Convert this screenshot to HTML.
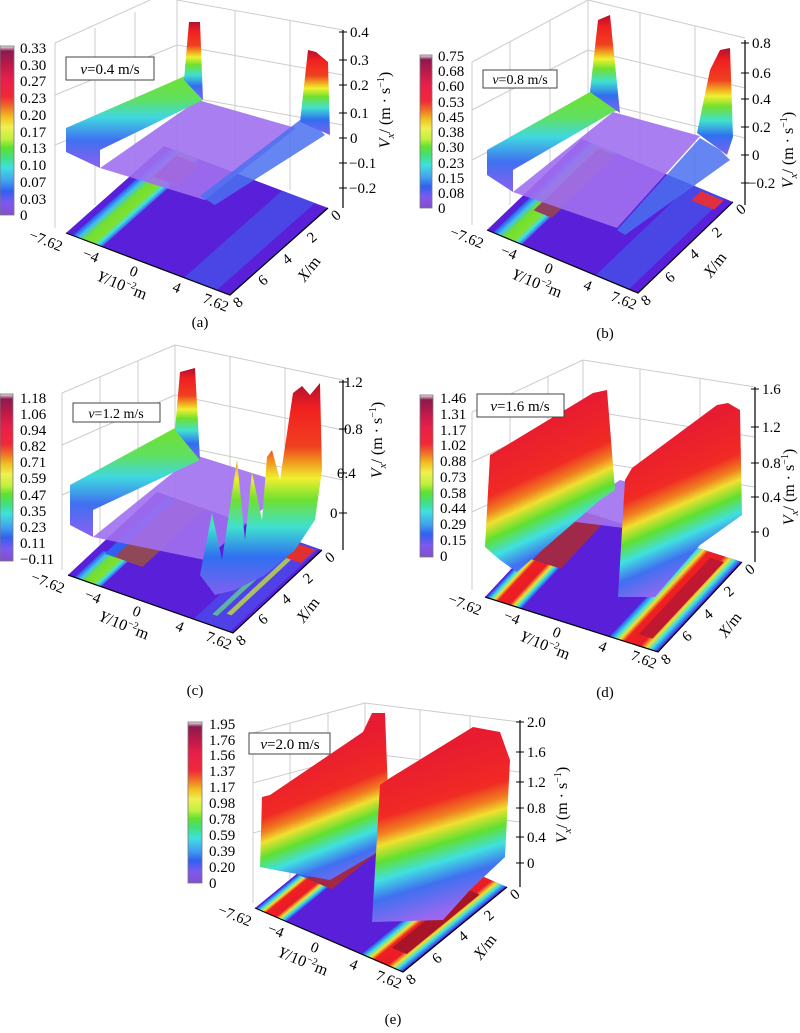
<!DOCTYPE html>
<html><head><meta charset="utf-8"><style>
html,body{margin:0;padding:0;background:#fff;}
svg, svg text{font-family:"Liberation Serif","DejaVu Serif",serif;}
</style></head><body>
<svg width="800" height="1028" viewBox="0 0 800 1028" xmlns="http://www.w3.org/2000/svg" font-family="Liberation Serif, serif">
<defs>
<linearGradient id="cb" x1="0" y1="0" x2="0" y2="1">
<stop offset="0" stop-color="#eee"/><stop offset=".03" stop-color="#8b1a4f"/><stop offset=".12" stop-color="#c21a4a"/><stop offset=".2" stop-color="#e8204a"/><stop offset=".3" stop-color="#f02838"/><stop offset=".36" stop-color="#f07028"/><stop offset=".42" stop-color="#f0c020"/><stop offset=".48" stop-color="#f0f050"/><stop offset=".55" stop-color="#c0f040"/><stop offset=".6" stop-color="#60e030"/><stop offset=".66" stop-color="#40e080"/><stop offset=".72" stop-color="#40e0e0"/><stop offset=".8" stop-color="#40a0f0"/><stop offset=".86" stop-color="#3060f0"/><stop offset=".93" stop-color="#8058f0"/><stop offset="1" stop-color="#8050c8"/>
</linearGradient>
<linearGradient id="pk" x1="0" y1="0" x2="0" y2="1">
<stop offset="0" stop-color="#b01030"/><stop offset=".12" stop-color="#f02020"/><stop offset=".3" stop-color="#f04020"/><stop offset=".38" stop-color="#f0a020"/><stop offset=".45" stop-color="#f0f030"/><stop offset=".55" stop-color="#70e030"/><stop offset=".68" stop-color="#40e0d0"/><stop offset=".82" stop-color="#3070f0"/><stop offset="1" stop-color="#8060f0"/>
</linearGradient>
<linearGradient id="bigs">
<stop offset="0" stop-color="#e81c30"/><stop offset=".3" stop-color="#f02a24"/><stop offset=".4" stop-color="#f08020"/><stop offset=".47" stop-color="#f0e030"/><stop offset=".57" stop-color="#60e030"/><stop offset=".68" stop-color="#40e0e0"/><stop offset=".8" stop-color="#4070f0"/><stop offset="1" stop-color="#9a68f0"/>
</linearGradient>
<linearGradient id="dL" href="#bigs" xlink:href="#bigs" xmlns:xlink="http://www.w3.org/1999/xlink" gradientUnits="userSpaceOnUse" x1="548" y1="420" x2="610" y2="555"/>
<linearGradient id="dR" href="#bigs" xlink:href="#bigs" xmlns:xlink="http://www.w3.org/1999/xlink" gradientUnits="userSpaceOnUse" x1="678" y1="432" x2="735" y2="565"/>
<linearGradient id="eL" href="#bigs" xlink:href="#bigs" xmlns:xlink="http://www.w3.org/1999/xlink" gradientUnits="userSpaceOnUse" x1="318" y1="752" x2="368" y2="880"/>
<linearGradient id="eR" href="#bigs" xlink:href="#bigs" xmlns:xlink="http://www.w3.org/1999/xlink" gradientUnits="userSpaceOnUse" x1="443" y1="750" x2="488" y2="900"/>
<linearGradient id="band" x1="0" y1="0" x2="0" y2="1">
<stop offset="0" stop-color="#70e030"/><stop offset=".25" stop-color="#60e060"/><stop offset=".45" stop-color="#40d8e0"/><stop offset=".7" stop-color="#4070f0"/><stop offset="1" stop-color="#8c60f0"/>
</linearGradient>
<linearGradient id="fl1" x1="0" y1="0" x2="1" y2="0">
<stop offset="0" stop-color="#3050f0"/><stop offset=".2" stop-color="#40c0f0"/><stop offset=".4" stop-color="#70e030"/><stop offset=".7" stop-color="#80e030"/><stop offset=".85" stop-color="#40e0e0"/><stop offset="1" stop-color="#4060f0"/>
</linearGradient>
<linearGradient id="fl2" x1="0" y1="0" x2="1" y2="0">
<stop offset="0" stop-color="#3050f0"/><stop offset=".12" stop-color="#40e0e0"/><stop offset=".22" stop-color="#f0e030"/><stop offset=".32" stop-color="#f02020"/><stop offset=".65" stop-color="#e81c28"/><stop offset=".78" stop-color="#f0e030"/><stop offset=".88" stop-color="#40e0e0"/><stop offset="1" stop-color="#3050f0"/>
</linearGradient>
</defs>

<!-- ================= PANEL A ================= -->
<g stroke="#ccc" stroke-width="1" fill="none">
<line x1="55" y1="43" x2="55" y2="228"/><line x1="55" y1="43" x2="150" y2="0"/><line x1="177" y1="0" x2="177" y2="150"/><line x1="177" y1="0" x2="343" y2="30"/>
<line x1="55" y1="95" x2="177" y2="45"/><line x1="55" y1="145" x2="177" y2="95"/><line x1="95" y1="28" x2="95" y2="205"/><line x1="135" y1="12" x2="135" y2="180"/>
<line x1="177" y1="45" x2="343" y2="75"/><line x1="177" y1="95" x2="343" y2="125"/><line x1="235" y1="10" x2="235" y2="170"/><line x1="290" y1="20" x2="290" y2="190"/>
</g>
<g transform="matrix(164,62,98,-87,66,233)">
<rect x="0" y="0" width="1" height="1" fill="#5a1fd8"/>
<rect x=".04" y="0" width=".18" height="1" fill="url(#fl1)"/>
<rect x=".1" y=".72" width=".14" height=".24" fill="#a03050"/>
<rect x=".72" y="0" width=".2" height="1" fill="#4060f0" opacity=".6"/>
</g>
<polygon points="100,168 198,100 296,128 205,200" fill="#a070f0" opacity=".9"/>
<polygon points="66,152 66,128 185,76 203,100 100,150 100,168" fill="url(#band)"/>
<polygon points="184,80 189,22 200,22 203,100" fill="url(#pk)"/>
<polygon points="200,196 300,120 318,128 325,135 215,205" fill="#4a70f0" opacity=".85"/>
<polygon points="300,122 308,50 316,52 328,62 330,135" fill="url(#pk)"/>
<g stroke="#000" stroke-width="1.2" fill="none"><polyline points="66,233 230,295 328,208"/><line x1="343" y1="30" x2="343" y2="208"/></g>
<g stroke="#000"><line x1="339" y1="32" x2="347" y2="32"/><line x1="339" y1="60" x2="347" y2="60"/><line x1="339" y1="85" x2="347" y2="85"/><line x1="339" y1="113" x2="347" y2="113"/><line x1="339" y1="138" x2="347" y2="138"/><line x1="339" y1="163" x2="347" y2="163"/><line x1="339" y1="188" x2="347" y2="188"/></g>
<g font-size="15"><text x="350" y="37">0.4</text><text x="350" y="65">0.3</text><text x="350" y="90">0.2</text><text x="350" y="118">0.1</text><text x="350" y="143">0</text><text x="349" y="168">−0.1</text><text x="349" y="193">−0.2</text></g>
<rect x="0" y="46" width="14" height="169" fill="url(#cb)" stroke="#777" stroke-width=".8"/>
<g font-size="15"><text x="20" y="53">0.33</text><text x="20" y="70">0.30</text><text x="20" y="86">0.27</text><text x="20" y="103">0.23</text><text x="20" y="120">0.20</text><text x="20" y="137">0.17</text><text x="20" y="153">0.13</text><text x="20" y="170">0.10</text><text x="20" y="187">0.07</text><text x="20" y="204">0.03</text><text x="20" y="220">0</text></g>
<rect x="66" y="57" width="88" height="23" fill="#fff" stroke="#444"/>
<text x="110" y="74" font-size="15" text-anchor="middle"><tspan font-style="italic">v</tspan>=0.4 m/s</text>

<!-- ================= PANEL B ================= -->
<g stroke="#ccc" stroke-width="1" fill="none">
<line x1="472" y1="62" x2="472" y2="225"/><line x1="472" y1="62" x2="588" y2="0"/><line x1="588" y1="0" x2="588" y2="150"/><line x1="588" y1="0" x2="745" y2="38"/>
<line x1="472" y1="110" x2="588" y2="50"/><line x1="472" y1="160" x2="588" y2="100"/><line x1="510" y1="42" x2="510" y2="205"/><line x1="550" y1="20" x2="550" y2="180"/>
<line x1="588" y1="50" x2="745" y2="88"/><line x1="588" y1="100" x2="745" y2="138"/><line x1="640" y1="12" x2="640" y2="170"/><line x1="695" y1="26" x2="695" y2="190"/>
</g>
<g transform="matrix(151,63,95,-91,487,230)">
<rect x="0" y="0" width="1" height="1" fill="#5a1fd8"/>
<rect x=".04" y="0" width=".19" height="1" fill="url(#fl1)"/>
<rect x=".12" y=".3" width=".12" height=".68" fill="#904060"/>
<rect x=".72" y="0" width=".22" height="1" fill="#4060f0" opacity=".6"/>
<rect x=".8" y=".88" width=".15" height=".1" fill="#e03040"/>
</g>
<polygon points="513,192 613,112 700,136 617,228" fill="#a070f0" opacity=".9"/>
<polygon points="487,175 487,150 590,92 620,110 613,112 513,170 513,192" fill="url(#band)"/>
<polygon points="590,92 598,20 610,15 620,113" fill="url(#pk)"/>
<polygon points="617,230 700,138 720,150 730,160 625,235" fill="#4a70f0" opacity=".85"/>
<polygon points="697,133 710,70 720,50 730,48 733,137 727,155" fill="url(#pk)"/>
<g stroke="#000" stroke-width="1.2" fill="none"><polyline points="487,230 638,293 733,202"/><line x1="745" y1="40" x2="745" y2="205"/></g>
<g stroke="#000"><line x1="741" y1="43" x2="749" y2="43"/><line x1="741" y1="73" x2="749" y2="73"/><line x1="741" y1="99" x2="749" y2="99"/><line x1="741" y1="127" x2="749" y2="127"/><line x1="741" y1="155" x2="749" y2="155"/><line x1="741" y1="183" x2="749" y2="183"/></g>
<g font-size="15"><text x="752" y="48">0.8</text><text x="752" y="78">0.6</text><text x="752" y="104">0.4</text><text x="752" y="132">0.2</text><text x="752" y="160">0</text><text x="748" y="188">−0.2</text></g>
<rect x="420" y="55" width="12" height="153" fill="url(#cb)" stroke="#777" stroke-width=".8"/>
<g font-size="15"><text x="438" y="61">0.75</text><text x="438" y="76">0.68</text><text x="438" y="91">0.60</text><text x="438" y="107">0.53</text><text x="438" y="122">0.45</text><text x="438" y="137">0.38</text><text x="438" y="152">0.30</text><text x="438" y="168">0.23</text><text x="438" y="183">0.15</text><text x="438" y="198">0.08</text><text x="438" y="213">0</text></g>
<rect x="483" y="70" width="74" height="18" fill="#fff" stroke="#444"/>
<text x="520" y="84" font-size="14" text-anchor="middle"><tspan font-style="italic">v</tspan>=0.8 m/s</text>

<!-- ================= PANEL C ================= -->
<g stroke="#ccc" stroke-width="1" fill="none">
<line x1="62" y1="393" x2="62" y2="570"/><line x1="62" y1="393" x2="175" y2="345"/><line x1="175" y1="345" x2="175" y2="500"/><line x1="175" y1="345" x2="343" y2="380"/>
<line x1="62" y1="445" x2="175" y2="395"/><line x1="62" y1="495" x2="175" y2="445"/><line x1="100" y1="377" x2="100" y2="545"/><line x1="138" y1="361" x2="138" y2="520"/>
<line x1="175" y1="395" x2="343" y2="430"/><line x1="175" y1="445" x2="343" y2="480"/><line x1="230" y1="357" x2="230" y2="520"/><line x1="285" y1="368" x2="285" y2="535"/>
</g>
<g transform="matrix(165,58,89,-83,68,575)">
<rect x="0" y="0" width="1" height="1" fill="#5a1fd8"/>
<rect x=".04" y="0" width=".16" height=".32" fill="url(#fl1)"/>
<rect x=".06" y=".3" width=".06" height=".7" fill="#3060f0"/>
<rect x=".12" y=".3" width=".17" height=".7" fill="#904858"/>
<rect x=".76" y="0" width=".22" height="1" fill="#5040e8"/>
<rect x=".82" y=".1" width=".03" height=".8" fill="#60d090" opacity=".8"/>
<rect x=".88" y=".15" width=".03" height=".8" fill="#c0e040" opacity=".8"/>
<rect x=".84" y=".82" width=".13" height=".16" fill="#e03030"/>
</g>
<polygon points="93,537 195,455 290,485 205,560" fill="#a070f0" opacity=".9"/>
<polygon points="70,525 70,485 175,428 200,460 93,510 93,537" fill="url(#band)"/>
<polygon points="175,430 180,372 195,368 200,460" fill="url(#pk)"/>
<polygon points="200,575 212,513 222,560 237,460 245,540 252,472 262,520 267,457 272,450 280,480 293,393 302,386 310,395 320,383 322,470 315,520 295,550 265,575 235,590 215,595" fill="url(#pk)"/>
<g stroke="#000" stroke-width="1.2" fill="none"><polyline points="68,575 233,633 322,550"/><line x1="343" y1="380" x2="343" y2="550"/></g>
<g stroke="#000"><line x1="339" y1="382" x2="347" y2="382"/><line x1="339" y1="429" x2="347" y2="429"/><line x1="339" y1="473" x2="347" y2="473"/><line x1="339" y1="513" x2="347" y2="513"/></g>
<g font-size="15"><text x="344" y="387">1.2</text><text x="344" y="434">0.8</text><text x="337" y="478">0.4</text><text x="330" y="518">0</text></g>
<rect x="0" y="394" width="13" height="167" fill="url(#cb)" stroke="#777" stroke-width=".8"/>
<g font-size="15"><text x="20" y="403">1.18</text><text x="20" y="419">1.06</text><text x="20" y="435">0.94</text><text x="20" y="451">0.82</text><text x="20" y="467">0.71</text><text x="20" y="483">0.59</text><text x="20" y="500">0.47</text><text x="20" y="516">0.35</text><text x="20" y="532">0.23</text><text x="20" y="548">0.11</text><text x="20" y="564">−0.11</text></g>
<rect x="73" y="403" width="87" height="19" fill="#fff" stroke="#444"/>
<text x="116" y="418" font-size="14" text-anchor="middle"><tspan font-style="italic">v</tspan>=1.2 m/s</text>

<!-- ================= PANEL D ================= -->
<g stroke="#ccc" stroke-width="1" fill="none">
<line x1="472" y1="412" x2="472" y2="590"/><line x1="472" y1="412" x2="583" y2="360"/><line x1="583" y1="360" x2="583" y2="515"/><line x1="583" y1="360" x2="755" y2="387"/>
<line x1="472" y1="462" x2="583" y2="410"/><line x1="472" y1="512" x2="583" y2="460"/><line x1="510" y1="395" x2="510" y2="570"/><line x1="548" y1="377" x2="548" y2="540"/>
<line x1="583" y1="410" x2="755" y2="437"/><line x1="583" y1="460" x2="755" y2="487"/><line x1="640" y1="369" x2="640" y2="530"/><line x1="700" y1="378" x2="700" y2="545"/>
</g>
<g transform="matrix(173,55,84,-90,485,597)">
<rect x="0" y="0" width="1" height="1" fill="#5a1fd8"/>
<rect x=".01" y="0" width=".2" height=".45" fill="url(#fl2)"/>
<rect x=".01" y=".45" width=".05" height=".55" fill="#3060f0"/>
<rect x=".06" y=".45" width=".16" height=".55" fill="#a02848"/>
<rect x=".72" y="0" width=".27" height="1" fill="url(#fl2)"/>
<rect x=".84" y=".1" width=".08" height=".85" fill="#c01830"/>
</g>
<polygon points="560,520 620,480 690,500 640,530" fill="#a070f0" opacity=".9"/>
<polygon points="485,547 490,455 502,448 593,393 607,390 615,490 600,500 517,572 500,560" fill="url(#dL)"/>
<polygon points="618,597 625,480 632,468 717,405 728,403 740,410 742,515 700,545 655,597" fill="url(#dR)"/>
<g stroke="#000" stroke-width="1.2" fill="none"><polyline points="485,597 658,652 742,562"/><line x1="755" y1="387" x2="755" y2="562"/></g>
<g stroke="#000"><line x1="751" y1="389" x2="759" y2="389"/><line x1="751" y1="427" x2="759" y2="427"/><line x1="751" y1="463" x2="759" y2="463"/><line x1="751" y1="497" x2="759" y2="497"/><line x1="751" y1="532" x2="759" y2="532"/></g>
<g font-size="15"><text x="762" y="394">1.6</text><text x="762" y="432">1.2</text><text x="762" y="468">0.8</text><text x="762" y="502">0.4</text><text x="762" y="537">0</text></g>
<rect x="420" y="395" width="13" height="162" fill="url(#cb)" stroke="#777" stroke-width=".8"/>
<g font-size="15"><text x="440" y="403">1.46</text><text x="440" y="419">1.31</text><text x="440" y="435">1.17</text><text x="440" y="450">1.02</text><text x="440" y="466">0.88</text><text x="440" y="482">0.73</text><text x="440" y="498">0.58</text><text x="440" y="513">0.44</text><text x="440" y="529">0.29</text><text x="440" y="545">0.15</text><text x="440" y="561">0</text></g>
<rect x="477" y="394" width="87" height="23" fill="#fff" stroke="#444"/>
<text x="520" y="411" font-size="15" text-anchor="middle"><tspan font-style="italic">v</tspan>=1.6 m/s</text>

<!-- ================= PANEL E ================= -->
<g stroke="#ccc" stroke-width="1" fill="none">
<line x1="253" y1="733" x2="253" y2="903"/><line x1="253" y1="733" x2="365" y2="703"/><line x1="365" y1="703" x2="365" y2="820"/><line x1="365" y1="703" x2="520" y2="722"/>
<line x1="253" y1="783" x2="365" y2="753"/><line x1="253" y1="833" x2="365" y2="803"/><line x1="290" y1="723" x2="290" y2="880"/><line x1="328" y1="713" x2="328" y2="850"/>
<line x1="365" y1="753" x2="520" y2="772"/><line x1="365" y1="803" x2="520" y2="822"/><line x1="420" y1="710" x2="420" y2="860"/><line x1="470" y1="716" x2="470" y2="870"/>
</g>
<g transform="matrix(148,64,104,-85,255,908)">
<rect x="0" y="0" width="1" height="1" fill="#5a1fd8"/>
<rect x=".01" y="0" width=".2" height=".4" fill="url(#fl2)"/>
<rect x=".01" y=".4" width=".06" height=".6" fill="#3060f0"/>
<rect x=".07" y=".4" width=".17" height=".6" fill="#a02848"/>
<rect x=".72" y="0" width=".27" height="1" fill="url(#fl2)"/>
<rect x=".82" y=".15" width=".1" height=".7" fill="#a81428"/>
</g>
<polygon points="260,867 262,797 270,795 363,732 372,713 385,713 390,845 330,880 275,870" fill="url(#eL)"/>
<polygon points="372,922 380,785 390,778 473,727 500,732 510,760 505,857 470,890 443,920" fill="url(#eR)"/>
<g stroke="#000" stroke-width="1.2" fill="none"><polyline points="255,908 403,972 507,887"/><line x1="520" y1="720" x2="520" y2="887"/></g>
<g stroke="#000"><line x1="516" y1="722" x2="524" y2="722"/><line x1="516" y1="752" x2="524" y2="752"/><line x1="516" y1="782" x2="524" y2="782"/><line x1="516" y1="808" x2="524" y2="808"/><line x1="516" y1="837" x2="524" y2="837"/><line x1="516" y1="863" x2="524" y2="863"/></g>
<g font-size="15"><text x="527" y="727">2.0</text><text x="527" y="757">1.6</text><text x="527" y="787">1.2</text><text x="527" y="813">0.8</text><text x="527" y="842">0.4</text><text x="527" y="868">0</text></g>
<rect x="188" y="722" width="14" height="161" fill="url(#cb)" stroke="#777" stroke-width=".8"/>
<g font-size="15"><text x="209" y="729">1.95</text><text x="209" y="745">1.76</text><text x="209" y="760">1.56</text><text x="209" y="776">1.37</text><text x="209" y="792">1.17</text><text x="209" y="808">0.98</text><text x="209" y="824">0.78</text><text x="209" y="840">0.59</text><text x="209" y="856">0.39</text><text x="209" y="872">0.20</text><text x="209" y="888">0</text></g>
<rect x="249" y="733" width="81" height="21" fill="#fff" stroke="#444"/>
<text x="290" y="749" font-size="15" text-anchor="middle"><tspan font-style="italic">v</tspan>=2.0 m/s</text>

<!-- ================= AXIS TICK LABELS ================= -->
<g font-size="15" text-anchor="middle">
<text transform="translate(44,245) rotate(22)">−7.62</text><text transform="translate(89,260) rotate(22)">−4</text><text transform="translate(132,276) rotate(22)">0</text><text transform="translate(175,292) rotate(22)">4</text><text transform="translate(214,307) rotate(22)">7.62</text>
<text transform="translate(241,306) rotate(-40)">8</text><text transform="translate(266,284) rotate(-40)">6</text><text transform="translate(290,263) rotate(-40)">4</text><text transform="translate(315,241) rotate(-40)">2</text><text transform="translate(339,219) rotate(-40)">0</text>
<text transform="translate(465,242) rotate(22)">−7.62</text><text transform="translate(507,257) rotate(22)">−4</text><text transform="translate(547,273) rotate(22)">0</text><text transform="translate(586,290) rotate(22)">4</text><text transform="translate(622,305) rotate(22)">7.62</text>
<text transform="translate(649,304) rotate(-40)">8</text><text transform="translate(673,281) rotate(-40)">6</text><text transform="translate(697,258) rotate(-40)">4</text><text transform="translate(720,236) rotate(-40)">2</text><text transform="translate(744,213) rotate(-40)">0</text>
<text transform="translate(46,587) rotate(22)">−7.62</text><text transform="translate(91,601) rotate(22)">−4</text><text transform="translate(135,616) rotate(22)">0</text><text transform="translate(178,631) rotate(22)">4</text><text transform="translate(217,645) rotate(22)">7.62</text>
<text transform="translate(244,644) rotate(-40)">8</text><text transform="translate(266,623) rotate(-40)">6</text><text transform="translate(289,603) rotate(-40)">4</text><text transform="translate(311,582) rotate(-40)">2</text><text transform="translate(333,561) rotate(-40)">0</text>
<text transform="translate(463,609) rotate(22)">−7.62</text><text transform="translate(510,622) rotate(22)">−4</text><text transform="translate(555,637) rotate(22)">0</text><text transform="translate(601,651) rotate(22)">4</text><text transform="translate(642,664) rotate(22)">7.62</text>
<text transform="translate(669,663) rotate(-40)">8</text><text transform="translate(690,640) rotate(-40)">6</text><text transform="translate(711,618) rotate(-40)">4</text><text transform="translate(732,595) rotate(-40)">2</text><text transform="translate(753,573) rotate(-40)">0</text>
<text transform="translate(233,920) rotate(22)">−7.62</text><text transform="translate(274,935) rotate(22)">−4</text><text transform="translate(313,952) rotate(22)">0</text><text transform="translate(352,969) rotate(22)">4</text><text transform="translate(387,984) rotate(22)">7.62</text>
<text transform="translate(414,983) rotate(-40)">8</text><text transform="translate(440,962) rotate(-40)">6</text><text transform="translate(466,940) rotate(-40)">4</text><text transform="translate(492,919) rotate(-40)">2</text><text transform="translate(518,898) rotate(-40)">0</text>
</g>

<g font-size="16" text-anchor="middle">
<text transform="translate(120,290) rotate(22)"><tspan font-style="italic">Y</tspan>/10<tspan font-size="10" dy="-6">−2</tspan><tspan dy="6">m</tspan></text>
<text transform="translate(535,288) rotate(22)"><tspan font-style="italic">Y</tspan>/10<tspan font-size="10" dy="-6">−2</tspan><tspan dy="6">m</tspan></text>
<text transform="translate(122,630) rotate(22)"><tspan font-style="italic">Y</tspan>/10<tspan font-size="10" dy="-6">−2</tspan><tspan dy="6">m</tspan></text>
<text transform="translate(543,650) rotate(22)"><tspan font-style="italic">Y</tspan>/10<tspan font-size="10" dy="-6">−2</tspan><tspan dy="6">m</tspan></text>
<text transform="translate(301,966) rotate(22)"><tspan font-style="italic">Y</tspan>/10<tspan font-size="10" dy="-6">−2</tspan><tspan dy="6">m</tspan></text>
<text transform="translate(313,272) rotate(-52)"><tspan font-style="italic">X</tspan>/m</text>
<text transform="translate(719,268) rotate(-52)"><tspan font-style="italic">X</tspan>/m</text>
<text transform="translate(312,613) rotate(-52)"><tspan font-style="italic">X</tspan>/m</text>
<text transform="translate(734,628) rotate(-52)"><tspan font-style="italic">X</tspan>/m</text>
<text transform="translate(489,950) rotate(-52)"><tspan font-style="italic">X</tspan>/m</text>
<text transform="translate(390,110) rotate(-90)"><tspan font-style="italic">V</tspan><tspan font-size="11" dy="4" font-style="italic">x</tspan><tspan dy="-4">/ (m · s</tspan><tspan font-size="10" dy="-6">−1</tspan><tspan dy="6">)</tspan></text>
<text transform="translate(793,150) rotate(-90)"><tspan font-style="italic">V</tspan><tspan font-size="11" dy="4" font-style="italic">x</tspan><tspan dy="-4">/ (m · s</tspan><tspan font-size="10" dy="-6">−1</tspan><tspan dy="6">)</tspan></text>
<text transform="translate(382,440) rotate(-90)"><tspan font-style="italic">V</tspan><tspan font-size="11" dy="4" font-style="italic">x</tspan><tspan dy="-4">/ (m · s</tspan><tspan font-size="10" dy="-6">−1</tspan><tspan dy="6">)</tspan></text>
<text transform="translate(794,487) rotate(-90)"><tspan font-style="italic">V</tspan><tspan font-size="11" dy="4" font-style="italic">x</tspan><tspan dy="-4">/ (m · s</tspan><tspan font-size="10" dy="-6">−1</tspan><tspan dy="6">)</tspan></text>
<text transform="translate(567,805) rotate(-90)"><tspan font-style="italic">V</tspan><tspan font-size="11" dy="4" font-style="italic">x</tspan><tspan dy="-4">/ (m · s</tspan><tspan font-size="10" dy="-6">−1</tspan><tspan dy="6">)</tspan></text>
</g>

<g font-size="15" text-anchor="middle">
<text x="200" y="327">(a)</text><text x="605" y="338">(b)</text><text x="195" y="695">(c)</text><text x="605" y="697">(d)</text><text x="393" y="1024">(e)</text>
</g>
</svg>
</body></html>
